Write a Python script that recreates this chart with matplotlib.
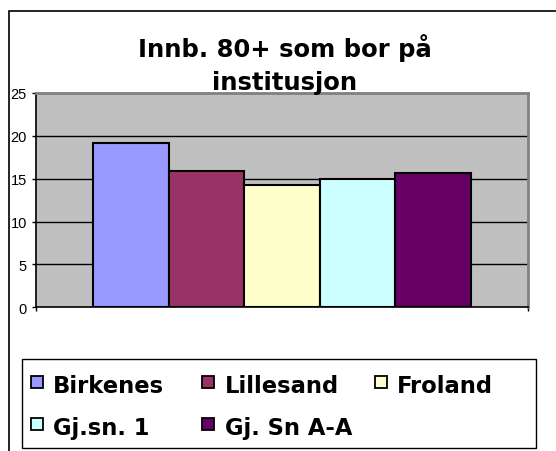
import matplotlib
matplotlib.use("Agg")
import matplotlib.pyplot as plt
from matplotlib.patches import Rectangle

title_lines = ["Innb. 80+ som bor på", "institusjon"]
series = ["Birkenes", "Lillesand", "Froland", "Gj.sn. 1", "Gj. Sn A-A"]
values = [19.2, 15.9, 14.3, 15.0, 15.7]
colors = ["#9999FF", "#993366", "#FFFFCC", "#CCFFFF", "#660066"]
yticks = [0, 5, 10, 15, 20, 25]

W, H = 556, 452
fig = plt.figure(figsize=(W / 100, H / 100), dpi=100)
fig.patch.set_facecolor("white")


def fx(px):
    return px / W


def fy(py):
    return 1 - py / H


# outer chart frame
fig.patches.append(Rectangle((fx(9), -0.05), 1.2, fy(12) + 0.05, transform=fig.transFigure,
                             fill=False, edgecolor="black", linewidth=1.2, zorder=0))

ax = fig.add_axes([fx(36), fy(308.3), (528 - 36) / W, (308.3 - 94) / H])
ax.set_facecolor("#C0C0C0")

n = len(series)
bw = 0.1537
offsets = [(i - (n - 1) / 2) * bw for i in range(n)]
for off, v, c in zip(offsets, values, colors):
    ax.bar(off, v, width=bw, color=c, edgecolor="black", linewidth=1.5, zorder=3)

ax.set_xlim(-0.5, 0.5)
ax.set_ylim(0, 25)
ax.set_yticks(yticks)
ax.set_yticklabels([str(t) for t in yticks], fontfamily="Liberation Sans", fontsize=10.5)
ax.set_xticks([-0.5, 0.5])
ax.set_xticklabels([])
ax.tick_params(axis="y", direction="out", length=3, width=1, pad=3.5, colors="black")
ax.tick_params(axis="x", direction="out", length=3, width=1)
for t in yticks[1:-1]:
    ax.axhline(t, color="black", linewidth=1, zorder=1)
ax.spines["left"].set_color("black")
ax.spines["bottom"].set_color("black")
ax.spines["left"].set_linewidth(1.2)
ax.spines["bottom"].set_linewidth(1.2)
ax.spines["top"].set_color("#808080")
ax.spines["right"].set_color("#808080")
ax.spines["top"].set_linewidth(2)
ax.spines["right"].set_linewidth(2)
ax.spines["bottom"].set_zorder(5)

fig.text(fx(285), fy(56.7), title_lines[0], ha="center", va="baseline",
         fontsize=17.5, fontweight="bold", fontfamily="DejaVu Sans")
fig.text(fx(285), fy(90), title_lines[1], ha="center", va="baseline",
         fontsize=17.5, fontweight="bold", fontfamily="DejaVu Sans", zorder=10)

# legend (Excel-style fixed grid: 3 columns, 2 rows)
fig.patches.append(Rectangle((fx(22), fy(449)), (536 - 22) / W, (449 - 360) / H,
                             transform=fig.transFigure, facecolor="white",
                             edgecolor="black", linewidth=1, zorder=1))
col_marker_x = [31, 202, 375]
col_text_x = [53, 225, 397]
row_base_y = [393, 435]
for i, (name, c) in enumerate(zip(series, colors)):
    r, k = divmod(i, 3)
    by = row_base_y[r]
    fig.patches.append(Rectangle((fx(col_marker_x[k]), fy(by - 4)), 12 / W, 12 / H,
                                 transform=fig.transFigure, facecolor=c,
                                 edgecolor="black", linewidth=1.3, zorder=2))
    fig.text(fx(col_text_x[k]), fy(by), name, ha="left", va="baseline",
             fontsize=16.3, fontweight="bold", fontfamily="DejaVu Sans", zorder=3)

fig.savefig("out.png", dpi=100)
